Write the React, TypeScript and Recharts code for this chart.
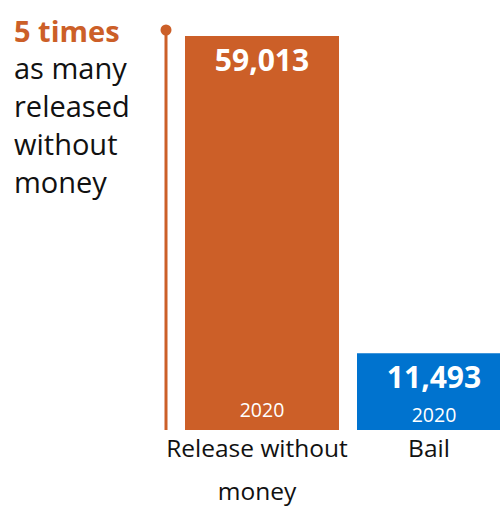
import React from 'react';
import { BarChart, Bar, XAxis, YAxis, LabelList, Cell } from 'recharts';

const categories = ['Release without money', 'Bail'];
const values = [59013, 11493];
const years = ['2020', '2020'];
const colors = ['#CC5F28', '#0073CF'];
const annotationLines = ['as many', 'released', 'without', 'money'];
const annotationHead = '5 times';

const data = categories.map((c, i) => ({ name: c, value: values[i], year: years[i] }));

const FONT = '"Open Sans", sans-serif';

function wrap(s: string, max: number): string[] {
  const words = s.split(' ');
  const lines: string[] = [];
  let cur = '';
  for (const w of words) {
    const t = cur ? cur + ' ' + w : w;
    if (t.length > max && cur) {
      lines.push(cur);
      cur = w;
    } else cur = t;
  }
  if (cur) lines.push(cur);
  return lines;
}

const Tick = (props: any) => {
  const { x, y, payload } = props;
  const lines = wrap(String(payload.value), 16);
  return (
    <g>
      {lines.map((l, i) => (
        <text key={i} x={x - 5} y={y + 27 + i * 43} textAnchor="middle" fontFamily={FONT} fontSize={24.5} fill="#111">
          {l}
        </text>
      ))}
    </g>
  );
};

const ValueLabel = (props: any) => {
  const { x, y, width, height, index } = props;
  const cx = x + width / 2;
  const valueY = y + 35;
  const bottom = y + height;
  const yearY = Math.max(valueY + 34, bottom - 13);
  return (
    <g>
      <text x={cx} y={valueY} textAnchor="middle" fontFamily={FONT} fontWeight={700} fontSize={30} fill="#fff">
        {values[index].toLocaleString('en-US')}
      </text>
      <text x={cx} y={yearY} textAnchor="middle" fontFamily={FONT} fontSize={19.5} fill="#fff">
        {years[index]}
      </text>
    </g>
  );
};

export default function App() {
  return (
    <div style={{ position: 'absolute', left: 0, top: 0, width: 500, height: 507, overflow: 'hidden', background: '#fff' }}>
      <BarChart
        width={520}
        height={507}
        data={data}
        margin={{ top: 36, right: 0, left: 176, bottom: 0 }}
        barCategoryGap={9}
      >
        <XAxis dataKey="name" axisLine={false} tickLine={false} tickSize={0} tickMargin={0} height={77} interval={0} tick={<Tick />} />
        <YAxis hide domain={[0, 59013]} />
        <Bar dataKey="value" isAnimationActive={false}>
          {data.map((d, i) => (
            <Cell key={i} fill={colors[i]} />
          ))}
          <LabelList dataKey="value" content={<ValueLabel />} />
        </Bar>
      </BarChart>
      <svg width={500} height={507} style={{ position: 'absolute', left: 0, top: 0, pointerEvents: 'none' }}>
        <line x1={166} y1={30} x2={166} y2={430} stroke={colors[0]} strokeWidth={3} />
        <circle cx={166} cy={30} r={5.5} fill={colors[0]} />
        <text x={14} y={42} fontFamily={FONT} fontWeight={700} fontSize={29} fill={colors[0]}>
          {annotationHead}
        </text>
        {annotationLines.map((l, i) => (
          <text key={i} x={14} y={79 + i * 38} fontFamily={FONT} fontSize={29} fill="#111">
            {l}
          </text>
        ))}
      </svg>
    </div>
  );
}
